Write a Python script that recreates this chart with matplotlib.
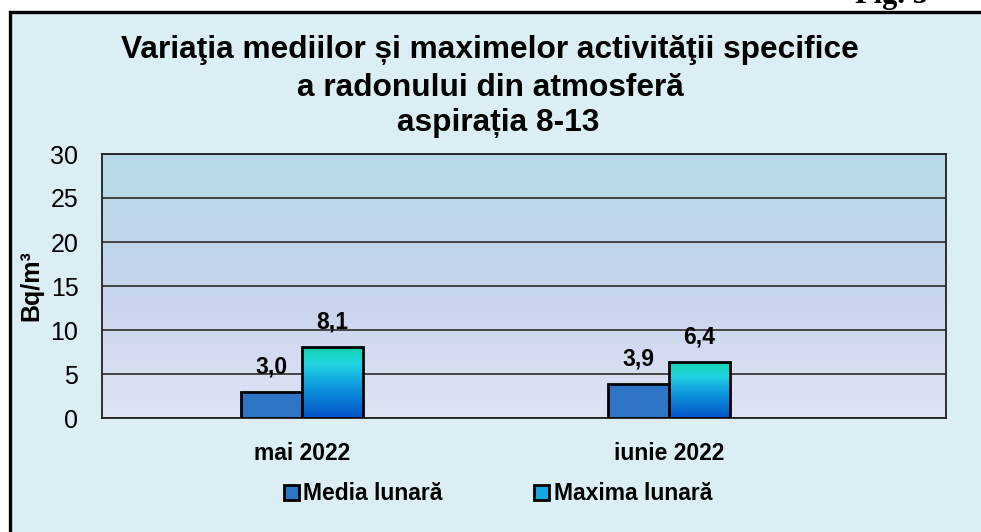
import numpy as np
import matplotlib
matplotlib.use("Agg")
import matplotlib.pyplot as plt
from matplotlib.patches import Rectangle, Patch
from matplotlib.colors import LinearSegmentedColormap

plt.rcParams['font.family'] = ['Liberation Sans', 'DejaVu Sans']

# data
categories = ["mai 2022", "iunie 2022"]
media = [3.0, 3.9]
maxima = [8.1, 6.4]
series_names = ["Media lunară", "Maxima lunară"]
title_lines = ["Variaţia mediilor și maximelor activităţii specifice",
               "a radonului din atmosferă",
               "aspirația 8-13"]

W, H = 981, 532
fig = plt.figure(figsize=(W / 100, H / 100), dpi=100)
fig.patch.set_facecolor("white")

def fx(px):
    return px / W

def fy(py):
    return 1 - py / H

# outer chart box
box = Rectangle((fx(10), fy(H + 20)), fx(1000), fy(12) - fy(H + 20),
                transform=fig.transFigure, facecolor="#dbeef4",
                edgecolor="black", linewidth=2.4, zorder=-10)
fig.patches.append(box)

# cut-off figure caption at the top right
fig.text(fx(928), fy(3), "Fig. 5", ha="right", va="baseline",
         fontsize=22, fontweight="bold", family=["Liberation Serif"])

ax = fig.add_axes([fx(102), fy(418), fx(946) - fx(102), fy(154) - fy(418)])

# gradient plot background
bg = LinearSegmentedColormap.from_list("bg", ["#dfe4f3", "#c6d3ec", "#b6dce6"])
ax.imshow(np.linspace(0, 1, 256).reshape(-1, 1), cmap=bg, origin="lower",
          extent=[0, 1, 0, 1], transform=ax.transAxes, aspect="auto", zorder=0)

x = np.arange(len(categories))
bw = 0.166
b1 = ax.bar(x - bw / 2, media, bw, color="#2e75c5", edgecolor="black",
            linewidth=2, zorder=3)
b2 = ax.bar(x + bw / 2, maxima, bw, color="none", edgecolor="black",
            linewidth=2, zorder=4)

grad = LinearSegmentedColormap.from_list(
    "mx", [(0, "#0052c8"), (0.45, "#109ae0"), (0.75, "#22d6e2"), (1, "#0fd3a8")])
for bar in b2:
    x0, y0 = bar.get_x(), bar.get_y()
    im = ax.imshow(np.linspace(0, 1, 256).reshape(-1, 1), cmap=grad, origin="lower",
                   extent=[x0, x0 + bar.get_width(), y0, y0 + bar.get_height()],
                   aspect="auto", zorder=3)
    im.set_clip_path(bar)

for bars in (b1, b2):
    for bar in bars:
        ax.annotate(f"{bar.get_height():.1f}".replace(".", ","),
                    (bar.get_x() + bar.get_width() / 2, bar.get_height()),
                    xytext=(0, 18), textcoords="offset points",
                    ha="center", va="center", fontsize=16.5, fontweight="bold")

ax.set_xlim(-0.545, 1.755)
ax.set_ylim(0, 30)
ax.set_yticks(range(0, 31, 5))
ax.set_xticks(x)
ax.set_xticklabels(categories, fontsize=16.5, fontweight="bold")
ax.tick_params(axis="y", length=0, pad=17, labelsize=18)
ax.tick_params(axis="x", length=0, pad=17)
ax.grid(axis="y", color="#3a3a3a", linewidth=1.3, zorder=1)
ax.set_axisbelow(True)
for s in ax.spines.values():
    s.set_color("#222222")
    s.set_linewidth(1.3)

fig.text(fx(31), fy(286), "Bq/m³", rotation=90, ha="center", va="center",
         fontsize=18, fontweight="bold")

for ty, tx, line in zip([50, 88, 123], [490, 490, 498], title_lines):
    fig.text(fx(tx), fy(ty), line, ha="center", va="center",
             fontsize=22.8, fontweight="bold")

handles = [Patch(facecolor="#2e75c5", edgecolor="black", linewidth=2),
           Patch(facecolor="#14a6e2", edgecolor="black", linewidth=2)]
fig.legend(handles, series_names, loc="center", bbox_to_anchor=(fx(498), fy(494)),
           ncol=2, frameon=False, handlelength=0.65, handleheight=0.65,
           handletextpad=0.2, columnspacing=4.0,
           prop={"size": 16.5, "weight": "bold"})

fig.savefig("out.png", dpi=100)
